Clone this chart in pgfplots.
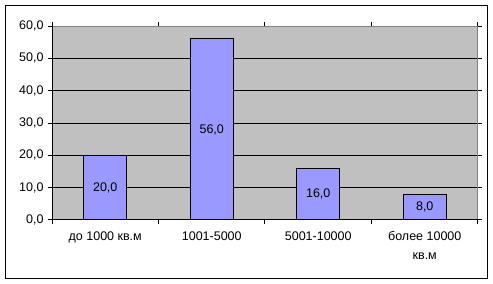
\documentclass[border=0pt]{standalone}
\usepackage{fontspec}
\setmainfont{Liberation Sans}
\usepackage{pgfplots}
\pgfplotsset{compat=1.18}
\definecolor{barc}{HTML}{9999FF}
\definecolor{bgc}{HTML}{C0C0C0}
\begin{document}
\begin{tikzpicture}[x=1pt,y=1pt]
\useasboundingbox (0,0) rectangle (493,284);
\draw[line width=1pt] (5.5,5.5) rectangle (487.5,278.5);
\begin{axis}[at={(52pt,64pt)}, anchor=south west, scale only axis,
 width=426pt, height=194pt,
 xmin=-0.5, xmax=3.5, ymin=0, ymax=60,
 axis background/.style={fill=bgc},
 axis line style={draw=gray, line width=1pt},
 ytick={0,10,...,50}, extra y ticks={60}, extra y tick style={grid=none},
 ymajorgrids, grid style={black, line width=1pt},
 tick align=outside, major tick length=4pt,
 tick style={black, line width=1pt},
 xtick={-0.5,0.5,1.5,2.5,3.5},
 xticklabels={до 1000 кв.м, 1001-5000, 5001-10000, {более 10000\\[3pt]кв.м}, {}},
 xticklabel style={xshift=53.25pt, align=center, yshift=-4pt},
 font=\fontsize{12.5}{16}\selectfont,
 /pgf/number format/assume math mode=true,
 /pgf/number format/.cd, fixed, fixed zerofill, precision=1, use comma,
 /pgfplots/.cd,
 yticklabel style={xshift=-1pt},
 visualization depends on=y \as \rawy,
 nodes near coords,
 every node near coord/.append style={anchor=center, yshift=-\rawy*1.616667pt, black},
]
\addplot[ybar, bar width=43pt, fill=barc, draw=black, line width=1pt]
 coordinates {(0,20) (1,56) (2,16) (3,8)};
\draw[black, line width=1pt] (rel axis cs:0,1) -- (rel axis cs:0,0) -- (rel axis cs:1,0);
\end{axis}
\end{tikzpicture}
\end{document}
